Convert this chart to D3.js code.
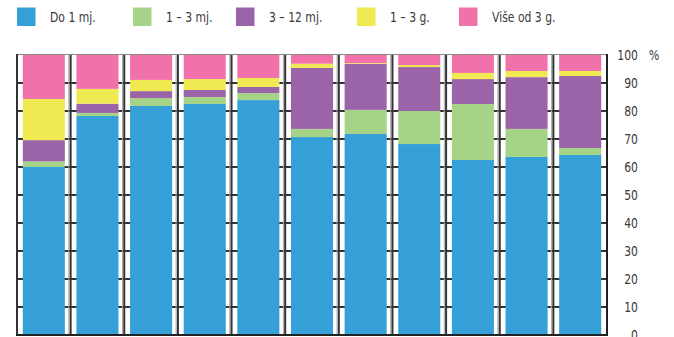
<!DOCTYPE html>
<html>
<head>
<meta charset="utf-8">
<script src="https://cdn.jsdelivr.net/npm/d3@7"></script>
<style>
    body { margin: 0; background: #fff; }
    svg { display: block; font-family: "Liberation Sans Narrow", "DejaVu Sans Condensed", "Roboto", sans-serif; }
    .lbl { fill: #3a3a3a; font-size: 14px; }
</style>
</head>
<body>
<svg id="chart" width="674" height="337"></svg>
<script>
    // groups (no x labels in the original)
    const categories = ['1', '2', '3', '4', '5', '6', '7', '8', '9', '10', '11'];
    const seriesNames = ['Do 1 mj.', '1 \u2013 3 mj.', '3 \u2013 12 mj.', '1 \u2013 3 g.', 'Vi\u0161e od 3 g.'];
    const seriesColors = ['#359fd8', '#a5d388', '#9c64a8', '#efea52', '#f172aa'];

    const do1mj   = [60.0, 78.2, 81.8, 82.5, 83.9, 70.7, 71.8, 68.2, 62.5, 63.6, 64.3];
    const od1do3mj = [2.0, 1.1, 2.8, 2.5, 2.5, 2.9, 8.6, 11.8, 20.0, 10.0, 2.5];
    const od3do12mj = [7.6, 3.3, 2.5, 2.5, 2.2, 21.8, 16.4, 15.7, 8.9, 18.5, 25.7];
    const od1do3g = [14.7, 5.3, 4.0, 3.9, 3.2, 1.5, 0.3, 0.7, 2.2, 2.2, 1.8];
    const viseOd3g = [15.7, 12.1, 8.9, 8.6, 8.2, 3.1, 2.9, 3.6, 6.4, 5.7, 5.7];

    const yTicks = [0, 10, 20, 30, 40, 50, 60, 70, 80, 90, 100];

    const seriesValues = [do1mj, od1do3mj, od3do12mj, od1do3g, viseOd3g];
    const rows = categories.map((c, i) => {
        let r = {cat: c};
        seriesNames.forEach((s, j) => r[s] = seriesValues[j][i]);
        return r;
    });

    const svg = d3.select('#chart');
    const pLeft = 17, pRight = 607, pTop = 55, pBottom = 335;
    const narrow = 'scale(0.86,1)';   // the original uses a condensed face

    const x = d3.scaleBand().domain(categories).range([pLeft, pRight]).paddingInner(0.216).paddingOuter(0.108);
    const y = d3.scaleLinear().domain([0, 100]).range([pBottom, pTop]);
    const step = x.step();

    // horizontal grid (behind bars)
    svg.append('g').selectAll('line').data(yTicks.filter(t => t > 0 && t < 100)).join('line')
        .attr('x1', pLeft).attr('x2', pRight)
        .attr('y1', d => y(d)).attr('y2', d => y(d))
        .attr('stroke', '#333').attr('stroke-width', 2);

    // vertical grid in the gaps
    const bounds = d3.range(1, categories.length).map(i => pLeft + i * step);
    const vg = svg.append('g');
    vg.selectAll('line.shade').data(bounds).join('line').attr('class', 'shade')
        .attr('x1', d => d - 1.8).attr('x2', d => d - 1.8)
        .attr('y1', pTop).attr('y2', pBottom)
        .attr('stroke', '#aaa').attr('stroke-width', 1);
    vg.selectAll('line.dark').data(bounds).join('line').attr('class', 'dark')
        .attr('x1', d => d).attr('x2', d => d)
        .attr('y1', pTop).attr('y2', pBottom)
        .attr('stroke', '#333').attr('stroke-width', 2);

    // stacked bars
    const stacked = d3.stack().keys(seriesNames)(rows);
    svg.append('g').selectAll('g').data(stacked).join('g')
        .attr('fill', (d, i) => seriesColors[i])
        .selectAll('rect').data(d => d).join('rect')
        .attr('x', d => x(d.data.cat))
        .attr('width', x.bandwidth())
        .attr('y', d => y(d[1]))
        .attr('height', d => y(d[0]) - y(d[1]));

    // frame
    svg.append('line').attr('x1', pLeft).attr('x2', pRight).attr('y1', pTop - 0.5).attr('y2', pTop - 0.5)
        .attr('stroke', '#888').attr('stroke-width', 1);
    svg.append('line').attr('x1', pLeft).attr('x2', pLeft).attr('y1', pTop - 1).attr('y2', pBottom + 1)
        .attr('stroke', '#333').attr('stroke-width', 2);
    svg.append('line').attr('x1', pRight).attr('x2', pRight).attr('y1', pTop - 1).attr('y2', pBottom + 1)
        .attr('stroke', '#222').attr('stroke-width', 2);
    svg.append('line').attr('x1', pLeft - 1).attr('x2', pRight + 1).attr('y1', pBottom).attr('y2', pBottom)
        .attr('stroke', '#222').attr('stroke-width', 2);

    // right axis labels
    const yAxis = d3.axisRight(y).tickValues(yTicks).tickSize(0).tickPadding(0);
    const ax = svg.append('g').attr('transform', 'translate(638,0)').call(yAxis);
    ax.select('.domain').remove();
    ax.attr('font-family', null).attr('font-size', null);
    ax.selectAll('text').attr('class', 'lbl').attr('x', 0).attr('text-anchor', 'end').attr('dy', '0.35em')
        .attr('transform', narrow);
    svg.append('text').attr('class', 'lbl')
        .attr('transform', `translate(649,${y(100)}) ${narrow}`).attr('dy', '0.35em').text('%');

    // legend
    const legendX = [17, 133, 236, 357, 459];
    const lg = svg.append('g').selectAll('g').data(seriesNames).join('g')
        .attr('transform', (d, i) => `translate(${legendX[i]},7.5)`);
    lg.append('rect').attr('width', 18.5).attr('height', 18.5).attr('fill', (d, i) => seriesColors[i]);
    lg.append('text').attr('class', 'lbl').attr('transform', `translate(33,9.5) ${narrow}`)
        .attr('dy', '0.35em').text(d => d);
</script>
</body>
</html>
